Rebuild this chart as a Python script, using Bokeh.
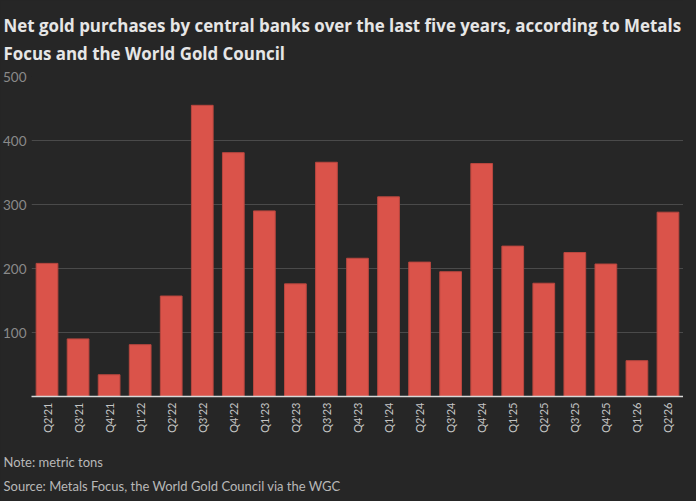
from math import pi
from bokeh.plotting import figure
from bokeh.models import Range1d, FixedTicker, Title
from bokeh.embed import file_html
from bokeh.resources import INLINE

quarters = ["Q2'21", "Q3'21", "Q4'21", "Q1'22", "Q2'22", "Q3'22", "Q4'22",
            "Q1'23", "Q2'23", "Q3'23", "Q4'23", "Q1'24", "Q2'24", "Q3'24",
            "Q4'24", "Q1'25", "Q2'25", "Q3'25", "Q4'25", "Q1'26", "Q2'26"]
tons = [208, 90, 34, 81, 157, 455, 381, 290, 176, 366, 216, 312, 210, 195,
        364, 235, 177, 225, 207, 56, 288]
y_ticks = [100, 200, 300, 400, 500]

title_text = ("Net gold purchases by central banks over the last five years, according to Metals\n"
              "Focus and the World Gold Council")
note_source = "Note: metric tons\nSource: Metals Focus, the World Gold Council via the WGC"

BG = "#262626"
FONT = "Lato"

p = figure(frame_width=652, frame_height=320, x_range=quarters, y_range=Range1d(0, 500),
           output_backend="svg", toolbar_location=None,
           background_fill_color=BG, border_fill_color=BG,
           outline_line_color=None,
           min_border_left=28, min_border_right=0,
           min_border_top=0, min_border_bottom=0)

p.vbar(x=quarters, top=tons, width=0.7, fill_color="#da534a",
       line_color="#b9473f", line_width=1)

p.xgrid.grid_line_color = None
p.ygrid.grid_line_color = "#4a4a4a"
p.ygrid.grid_line_width = 1.2
p.yaxis.ticker = FixedTicker(ticks=y_ticks)

p.yaxis.axis_line_color = None
p.yaxis.major_tick_line_color = None
p.yaxis.minor_tick_line_color = None
p.yaxis.major_tick_out = 0
p.yaxis.major_tick_in = 0
p.yaxis.major_label_text_color = "#8a8a8a"
p.yaxis.major_label_text_font = FONT
p.yaxis.major_label_text_font_size = "13.5px"
p.yaxis.major_label_standoff = 5

p.xaxis.axis_line_color = "#d8d8d8"
p.xaxis.axis_line_width = 1.5
p.xaxis.major_tick_line_color = None
p.xaxis.minor_tick_line_color = None
p.xaxis.major_tick_out = 0
p.xaxis.major_tick_in = 0
p.xaxis.major_label_orientation = pi / 2
p.xaxis.major_label_text_color = "#c4c4c4"
p.xaxis.major_label_text_font = FONT
p.xaxis.major_label_text_font_size = "11px"
p.xaxis.major_label_standoff = 6

t = Title(text=title_text, align="left", offset=-28, text_font="Open Sans",
          text_font_size="16.9px", text_font_style="bold", text_color="#e6e6e6",
          text_line_height=1.2, standoff=23)
p.add_layout(t, "above")

ns = Title(text=note_source, align="left", offset=-28, text_font=FONT,
           text_font_size="13px", text_font_style="normal", text_color="#b8b8b8",
           text_line_height=1.5, standoff=33)
p.add_layout(ns, "below")

html = file_html(p, INLINE)
html = html.replace("</head>", "<style>body{background:#262626;}</style></head>", 1)
open("out.html", "w").write(html)
